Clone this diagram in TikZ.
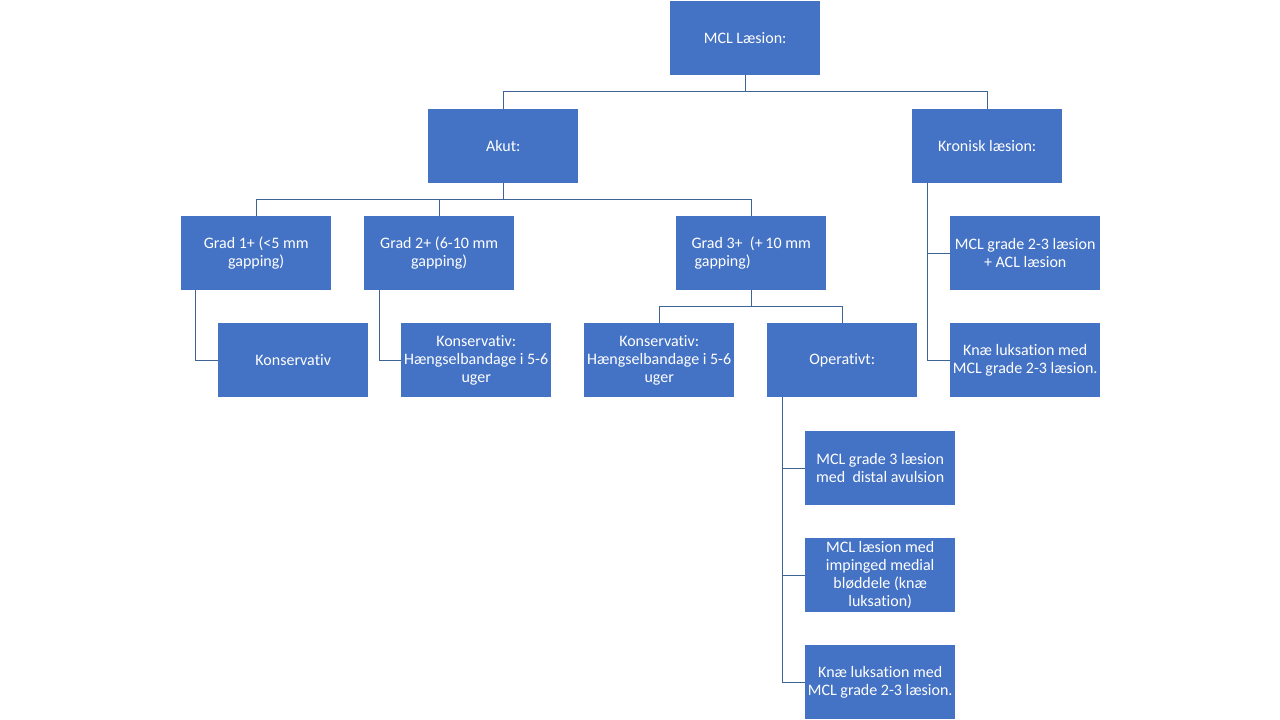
\documentclass[tikz,border=0pt]{standalone}
\usepackage{fontspec}
\setmainfont{Carlito}[Ligatures=NoCommon]
\definecolor{boxblue}{HTML}{4472C4}
\definecolor{lineblue}{HTML}{3E6496}
\begin{document}
\begin{tikzpicture}[x=1pt,y=-1pt,
  box/.style={fill=boxblue,draw=none,text=white,minimum width=150pt,minimum height=74pt,inner sep=1pt,align=center,font=\fontsize{16}{18}\selectfont,anchor=north west},
  conn/.style={draw=lineblue,line width=1pt}]
\useasboundingbox[fill=white] (0,0) rectangle (1280,720);
\node[box] (mcl) at (670,1) {MCL Læsion:};
\node[box] (akut) at (428,109) {Akut:};
\node[box] (kron) at (912,109) {Kronisk læsion:};
\node[box] (g1) at (181,216) {Grad 1+ (<5 mm\\gapping)};
\node[box] (g2) at (364,216) {Grad 2+ (6-10 mm\\gapping)};
\node[box,align=left] (g3) at (676,216) {Grad 3+~~(+\,10 mm\\\hspace*{3pt}gapping)};
\node[box] (k1) at (218,323) {Konservativ};
\node[box] (k2) at (401,323) {Konservativ:\\Hængselbandage i 5-6\\uger};
\node[box] (k3) at (584,323) {Konservativ:\\Hængselbandage i 5-6\\uger};
\node[box] (op) at (767,323) {Operativt:};
\node[box] (acl) at (950,216) {MCL grade 2-3 læsion\\+ ACL læsion};
\node[box] (kn1) at (950,323) {Knæ luksation med\\MCL grade 2-3 læsion.};
\node[box] (o1) at (805,431) {MCL grade 3 læsion\\med~ distal avulsion};
\node[box] (o2) at (805,538) {MCL læsion med\\impinged medial\\bløddele (knæ\\luksation)};
\node[box] (o3) at (805,645) {Knæ luksation med\\MCL grade 2-3 læsion.};
% connectors
\draw[conn] (mcl.south) -- ++(0,16) -| (akut.north);
\draw[conn] (mcl.south) -- ++(0,16) -| (kron.north);
\draw[conn] (akut.south) -- ++(0,16) -| (g1.north);
\draw[conn] (akut.south) -- ++(0,16) -| (g2.north);
\draw[conn] (akut.south) -- ++(0,16) -| (g3.north);
\draw[conn] (g3.south) -- ++(0,16) -| (k3.north);
\draw[conn] (g3.south) -- ++(0,16) -| (op.north);
\draw[conn] ([xshift=14pt]g1.south west) |- (k1.west);
\draw[conn] ([xshift=15pt]g2.south west) |- (k2.west);
\draw[conn] ([xshift=15pt]kron.south west) |- (acl.west);
\draw[conn] ([xshift=15pt]kron.south west) |- (kn1.west);
\draw[conn] ([xshift=15pt]op.south west) |- (o1.west);
\draw[conn] ([xshift=15pt]op.south west) |- (o2.west);
\draw[conn] ([xshift=15pt]op.south west) |- (o3.west);
\end{tikzpicture}
\end{document}
